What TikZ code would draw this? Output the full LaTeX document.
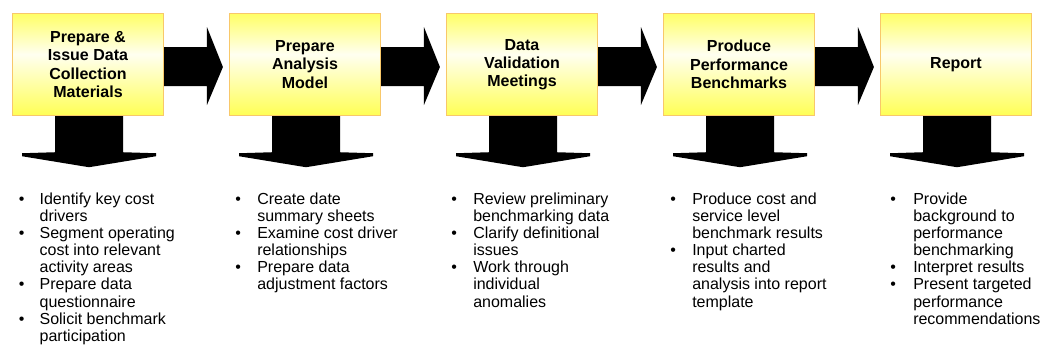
\documentclass[tikz,border=0pt]{standalone}
\usepackage{fontspec}
\setmainfont{Liberation Sans}
\usepackage{array}
\usetikzlibrary{calc}

\definecolor{boxedge}{HTML}{F8C86A}
\definecolor{boxtop}{HTML}{FFFF66}
\definecolor{boxmid}{HTML}{FFFFF0}
\definecolor{boxbot}{HTML}{FFFF55}
% yellow at top and bottom, almost white a little above the middle
\pgfdeclareverticalshading{boxglow}{100bp}{color(0bp)=(boxbot); color(25bp)=(boxbot);
  color(55bp)=(boxmid); color(75bp)=(boxtop); color(100bp)=(boxtop)}

% bulleted list: #1 = hanging indent, #2 = rows
\newcommand\steplist[2]{{\fontsize{12}{12.85}\selectfont
  \begin{tabular}{@{}p{#1}@{}l@{}}#2\end{tabular}}}
\newcommand\bt{\textbullet}

\begin{document}
\begin{tikzpicture}[x=0.75pt, y=-0.75pt,
  stage/.style={shade, shading=boxglow, draw=boxedge, line width=1.1pt,
    minimum width=113pt, minimum height=76.5pt, inner sep=0pt,
    align=center, font=\bfseries\fontsize{12}{13.7}\selectfont},
  blockarrow/.style={fill=black},
  tasks/.style={anchor=north west, inner sep=0pt}]
\useasboundingbox (0,0) rectangle (1047,354);

% stages
\node[stage] (b1) at (88,64.5)  {Prepare \&\\Issue Data\\Collection\\Materials};
\node[stage] (b2) at (305,64.5) {Prepare\\Analysis\\Model};
\node[stage] (b3) at (522,64.5) {Data\\Validation\\Meetings};
\node[stage] (b4) at (739,64.5) {Produce\\Performance\\Benchmarks};
\node[stage] (b5) at (956,64.5) {Report};

% block arrows from one stage to the next
\foreach \a/\b in {b1/b2, b2/b3, b3/b4, b4/b5}{
  \fill[blockarrow] ($(\a.east)+(0,-17.5)$) -- ($(\b.west)+(-22,-17.5)$)
    -- ($(\b.west)+(-22,-37.5)$) -- ($(\b.west)+(-6,2.5)$)
    -- ($(\b.west)+(-22,40.5)$) -- ($(\b.west)+(-22,21.5)$)
    -- ($(\a.east)+(0,21.5)$) -- cycle;
}

% block arrows down to the task lists
\foreach \a in {b1,b2,b3,b4,b5}{
  \coordinate (\a-tip) at ($(\a.south)+(1,51)$);
  \fill[blockarrow] ($(\a.south)+(-33,0)$) -- ($(\a.south)+(-33,36)$)
    -- ($(\a.south)+(-66,37)$) -- ($(\a.south)+(-66,40)$) -- (\a-tip)
    -- ($(\a.south)+(68,40)$) -- ($(\a.south)+(68,37)$)
    -- ($(\a.south)+(35,36)$) -- ($(\a.south)+(35,0)$) -- cycle;
}

% task lists
\node[tasks] (l1) at (18.7,192) {\steplist{15.5pt}{%
  \bt & Identify key cost\\ & drivers\\
  \bt & Segment operating\\ & cost into relevant\\ & activity areas\\
  \bt & Prepare data\\ & questionnaire\\
  \bt & Solicit benchmark\\ & participation}};
\node[tasks] (l2) at (235.2,192) {\steplist{16.35pt}{%
  \bt & Create date\\ & summary sheets\\
  \bt & Examine cost driver\\ & relationships\\
  \bt & Prepare data\\ & adjustment factors}};
\node[tasks] (l3) at (451.2,192) {\steplist{16.35pt}{%
  \bt & Review preliminary\\ & benchmarking data\\
  \bt & Clarify definitional\\ & issues\\
  \bt & Work through\\ & individual\\ & anomalies}};
\node[tasks] (l4) at (670.2,192) {\steplist{16.35pt}{%
  \bt & Produce cost and\\ & service level\\ & benchmark results\\
  \bt & Input charted\\ & results and\\ & analysis into report\\ & template}};
\node[tasks] (l5) at (890.2,192) {\steplist{17.1pt}{%
  \bt & Provide\\ & background to\\ & performance\\ & benchmarking\\
  \bt & Interpret results\\
  \bt & Present targeted\\ & performance\\ & recommendations}};
\end{tikzpicture}
\end{document}
